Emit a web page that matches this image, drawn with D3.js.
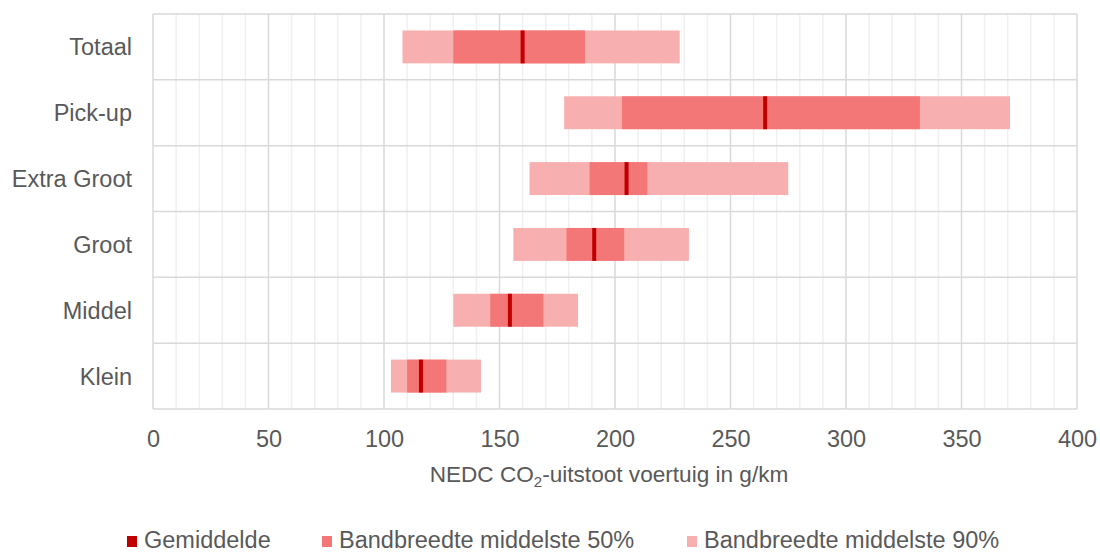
<!DOCTYPE html>
<html>
<head>
    <title>NEDC CO2-uitstoot per klasse</title>
    <style>
        body, html {
            margin: 0;
            padding: 0;
            background: #fff;
            overflow: hidden;
        }
        text {
            font-family: "Liberation Sans", Arial, sans-serif;
            fill: #595959;
        }
    </style>
    <script src="https://d3js.org/d3.v7.min.js"></script>
</head>
<body>

<svg id="chart" width="1100" height="552"></svg>

<script>
// data
const categories = ['Totaal', 'Pick-up', 'Extra Groot', 'Groot', 'Middel', 'Klein'];
const p05 = [108, 178, 163, 156, 130, 103];
const p25 = [130, 203, 189, 179, 146, 110];
const mean = [160, 265, 205, 191, 154.5, 116];
const p75 = [187, 332, 214, 204, 169, 127];
const p95 = [228, 371, 275, 232, 184, 142];
const xTicks = [0, 50, 100, 150, 200, 250, 300, 350, 400];
const legendLabels = ['Gemiddelde', 'Bandbreedte middelste 50%', 'Bandbreedte middelste 90%'];

const colMean = '#C00000';
const col50 = '#F47777';
const col90 = '#F7AFAF';

const rows = categories.map((c, i) => ({
    cat: c, p05: p05[i], p25: p25[i], mean: mean[i], p75: p75[i], p95: p95[i]
}));

const svg = d3.select('#chart');
const plotLeft = 153, plotRight = 1077, plotTop = 14, plotBottom = 409;

const x = d3.scaleLinear().domain([0, 400]).range([plotLeft, plotRight]);
const y = d3.scaleBand().domain(categories).range([plotTop, plotBottom]);
const barH = y.bandwidth() * 0.5;
const barOff = y.bandwidth() * 0.25;

// minor gridlines every 10
const minor = d3.range(10, 400, 10).filter(v => v % 50 !== 0);
svg.append('g').selectAll('line')
    .data(minor)
    .enter().append('line')
    .attr('x1', d => x(d)).attr('x2', d => x(d))
    .attr('y1', plotTop).attr('y2', plotBottom)
    .attr('stroke', '#F0F0F0')
    .attr('stroke-width', 1.5);

// major gridlines
svg.append('g').selectAll('line')
    .data(xTicks)
    .enter().append('line')
    .attr('x1', d => x(d)).attr('x2', d => x(d))
    .attr('y1', plotTop).attr('y2', plotBottom)
    .attr('stroke', '#D9D9D9')
    .attr('stroke-width', 1.5);

// row separators
const bounds = categories.map(c => y(c)).concat([plotBottom]);
svg.append('g').selectAll('line')
    .data(bounds)
    .enter().append('line')
    .attr('x1', plotLeft).attr('x2', plotRight)
    .attr('y1', d => d).attr('y2', d => d)
    .attr('stroke', '#D9D9D9')
    .attr('stroke-width', 1.5);

// bars
const bars = svg.append('g');
bars.selectAll('.b90')
    .data(rows)
    .enter().append('rect')
    .attr('class', 'b90')
    .attr('x', d => x(d.p05))
    .attr('width', d => x(d.p95) - x(d.p05))
    .attr('y', d => y(d.cat) + barOff)
    .attr('height', barH)
    .attr('fill', col90);

bars.selectAll('.b50')
    .data(rows)
    .enter().append('rect')
    .attr('class', 'b50')
    .attr('x', d => x(d.p25))
    .attr('width', d => x(d.p75) - x(d.p25))
    .attr('y', d => y(d.cat) + barOff)
    .attr('height', barH)
    .attr('fill', col50);

bars.selectAll('.bm')
    .data(rows)
    .enter().append('rect')
    .attr('class', 'bm')
    .attr('x', d => x(d.mean) - 2)
    .attr('width', 4)
    .attr('y', d => y(d.cat) + barOff)
    .attr('height', barH)
    .attr('fill', colMean);

// x axis labels
const xAxis = svg.append('g')
    .attr('transform', `translate(0,${plotBottom})`)
    .call(d3.axisBottom(x).tickValues(xTicks).tickSize(0).tickPadding(38));
xAxis.select('.domain').remove();
xAxis.selectAll('text')
    .attr('dy', 0)
    .style('font-size', '23.5px')
    .style('font-family', '"Liberation Sans", Arial, sans-serif')
    .attr('fill', '#595959');

// y axis labels
const yAxis = svg.append('g')
    .attr('transform', `translate(${plotLeft},0)`)
    .call(d3.axisLeft(y).tickSize(0).tickPadding(21));
yAxis.select('.domain').remove();
yAxis.selectAll('text')
    .attr('dy', '0.36em')
    .style('font-size', '23.5px')
    .style('font-family', '"Liberation Sans", Arial, sans-serif')
    .attr('fill', '#595959');

// axis title
const title = svg.append('text')
    .attr('x', (plotLeft + plotRight) / 2 - 6)
    .attr('y', 482)
    .attr('text-anchor', 'middle')
    .style('font-size', '22.6px');
title.append('tspan').text('NEDC CO');
title.append('tspan').text('2').attr('dy', 5).style('font-size', '15px');
title.append('tspan').text('-uitstoot voertuig in g/km').attr('dy', -5);

// legend
const legendX = [127, 322, 687];
const legendCols = [colMean, col50, col90];
const legend = svg.append('g');
legend.selectAll('rect')
    .data(legendLabels)
    .enter().append('rect')
    .attr('x', (d, i) => legendX[i])
    .attr('y', 536)
    .attr('width', 10)
    .attr('height', 11)
    .attr('fill', (d, i) => legendCols[i]);
legend.selectAll('text')
    .data(legendLabels)
    .enter().append('text')
    .attr('x', (d, i) => legendX[i] + 17)
    .attr('y', 548)
    .style('font-size', '23.5px')
    .text(d => d);
</script>

</body>
</html>
